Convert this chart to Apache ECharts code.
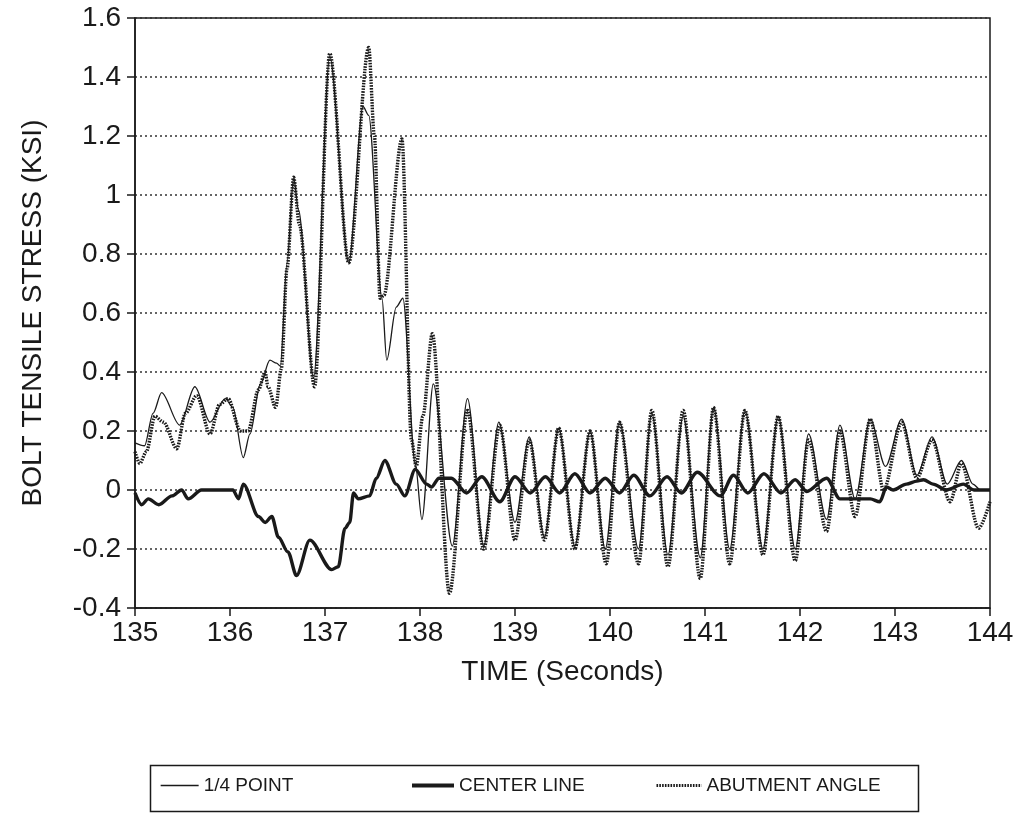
<!DOCTYPE html>
<html>
<head>
    <meta charset="utf-8">
    <title>Bolt tensile stress</title>
    <script src="https://cdn.jsdelivr.net/npm/echarts@6/dist/echarts.min.js"></script>
    <style type="text/css">
        body {
            margin: 0;
            background: #fff;
        }

        #main {
            width: 1026px;
            height: 813px;
        }
    </style>
</head>
<body>
<div id="main"></div>
<script>
    // 1/4 POINT (thin solid)
    var quarterTime = [135.00, 135.10, 135.19, 135.28, 135.47, 135.63, 135.79, 135.95, 136.03, 136.14,
        136.21, 136.32, 136.42, 136.49, 136.53, 136.60, 136.67, 136.72, 136.88, 137.05,
        137.25, 137.40, 137.46, 137.60, 137.65, 137.75, 137.82, 137.95, 138.02, 138.14,
        138.34, 138.50, 138.67, 138.83, 139.00, 139.15, 139.31, 139.46, 139.63, 139.79,
        139.95, 140.10, 140.30, 140.44, 140.61, 140.77, 140.95, 141.09, 141.26, 141.42,
        141.61, 141.77, 141.95, 142.09, 142.28, 142.42, 142.58, 142.74, 142.90, 143.07,
        143.23, 143.39, 143.55, 143.70, 143.82, 143.90, 144.00];
    var quarterStress = [0.16, 0.15, 0.26, 0.33, 0.22, 0.35, 0.23, 0.31, 0.28, 0.11,
        0.19, 0.36, 0.44, 0.43, 0.42, 0.77, 1.06, 0.95, 0.38, 1.47,
        0.77, 1.30, 1.27, 0.65, 0.44, 0.62, 0.65, 0.09, -0.10, 0.36,
        -0.19, 0.31, -0.19, 0.23, -0.11, 0.18, -0.16, 0.21, -0.19, 0.20,
        -0.20, 0.23, -0.20, 0.26, -0.22, 0.25, -0.23, 0.28, -0.20, 0.27,
        -0.20, 0.25, -0.20, 0.19, -0.10, 0.22, -0.03, 0.24, 0.08, 0.24,
        0.05, 0.18, 0.02, 0.10, 0.02, 0.00, 0.00];

    // CENTER LINE (thick solid)
    var centerTime = [135.00, 135.07, 135.14, 135.25, 135.39, 135.49, 135.56, 135.70, 136.03, 136.09,
        136.14, 136.30, 136.37, 136.44, 136.51, 136.61, 136.70, 136.84, 137.07, 137.14,
        137.21, 137.26, 137.30, 137.35, 137.47, 137.54, 137.63, 137.75, 137.84, 137.95,
        138.07, 138.12, 138.20, 138.33, 138.49, 138.65, 138.84, 139.00, 139.16, 139.32,
        139.47, 139.63, 139.79, 139.95, 140.10, 140.25, 140.42, 140.60, 140.75, 140.92,
        141.16, 141.30, 141.45, 141.62, 141.80, 141.95, 142.07, 142.28, 142.42, 142.60,
        142.74, 142.84, 142.91, 142.98, 143.12, 143.23, 143.30, 143.40, 143.54, 143.72,
        143.83, 144.00];
    var centerStress = [-0.01, -0.05, -0.03, -0.05, -0.02, 0.00, -0.03, 0.00, 0.00, -0.03,
        0.02, -0.09, -0.11, -0.09, -0.16, -0.21, -0.29, -0.17, -0.27, -0.26,
        -0.13, -0.11, -0.01, -0.03, -0.02, 0.04, 0.10, 0.02, -0.02, 0.07,
        0.02, 0.01, 0.04, 0.04, -0.01, 0.045, -0.04, 0.045, -0.01, 0.045,
        -0.01, 0.055, -0.01, 0.04, -0.01, 0.05, -0.02, 0.045, -0.01, 0.06,
        -0.02, 0.05, -0.01, 0.055, -0.01, 0.035, -0.005, 0.04, -0.03, -0.03,
        -0.03, -0.04, 0.01, 0.00, 0.02, 0.03, 0.035, 0.02, 0.00, 0.02,
        0.00, 0.00];

    // ABUTMENT ANGLE (dotted)
    var abutTime = [135.00, 135.05, 135.12, 135.21, 135.30, 135.44, 135.53, 135.65, 135.79, 135.89,
        135.98, 136.11, 136.19, 136.30, 136.37, 136.40, 136.48, 136.54, 136.60, 136.67,
        136.73, 136.89, 137.05, 137.25, 137.46, 137.52, 137.58, 137.62, 137.81, 137.91,
        137.96, 138.03, 138.13, 138.31, 138.50, 138.67, 138.84, 139.00, 139.15, 139.31,
        139.46, 139.63, 139.79, 139.96, 140.10, 140.30, 140.44, 140.61, 140.77, 140.95,
        141.09, 141.26, 141.42, 141.61, 141.77, 141.95, 142.09, 142.28, 142.42, 142.58,
        142.74, 142.88, 143.07, 143.23, 143.39, 143.58, 143.70, 143.88, 144.00];
    var abutStress = [0.13, 0.09, 0.13, 0.25, 0.23, 0.14, 0.26, 0.32, 0.19, 0.29,
        0.31, 0.20, 0.20, 0.34, 0.40, 0.35, 0.28, 0.41, 0.75, 1.06,
        0.90, 0.35, 1.48, 0.77, 1.50, 1.20, 0.65, 0.66, 1.19, 0.17,
        0.08, 0.25, 0.53, -0.35, 0.27, -0.20, 0.22, -0.17, 0.17, -0.17,
        0.21, -0.20, 0.20, -0.25, 0.23, -0.25, 0.27, -0.26, 0.27, -0.30,
        0.28, -0.25, 0.27, -0.22, 0.25, -0.24, 0.17, -0.14, 0.20, -0.09,
        0.24, 0.00, 0.23, 0.04, 0.17, -0.04, 0.09, -0.13, -0.04];

    function pairs(xs, ys) {
        var out = [];
        for (var i = 0; i < xs.length; i++) {
            out.push([xs[i], ys[i]]);
        }
        return out;
    }

    var ink = '#1a1a1a';
    var font = 'Liberation Sans, Arial, sans-serif';

    // one legend per entry, the spacing in the original box is uneven
    function legendAt(name, left, iconWidth, lineStyle) {
        return {
            left: left,
            top: 776,
            padding: 0,
            itemWidth: iconWidth,
            itemHeight: 10,
            itemStyle: {opacity: 0},
            lineStyle: lineStyle,
            textStyle: {color: ink, fontFamily: font, fontSize: 19},
            data: [name]
        };
    }

    var myChart = echarts.init(document.getElementById('main'));
    var option = {
        animation: false,
        backgroundColor: '#fff',
        grid: {
            left: 135,
            right: 36,
            top: 18,
            bottom: 205,
            show: true,
            borderColor: ink,
            borderWidth: 1.5,
            backgroundColor: '#fff'
        },
        graphic: [{
            type: 'rect',
            left: 148,
            top: 763,
            shape: {width: 768, height: 46},
            style: {fill: 'none', stroke: ink, lineWidth: 1.5}
        }],
        legend: [
            legendAt('1/4 POINT', 160, 38, {width: 1.3}),
            legendAt('CENTER LINE', 410, 42, {width: 4}),
            legendAt('ABUTMENT ANGLE', 655, 45, {width: 3})
        ],
        xAxis: {
            type: 'value',
            min: 135,
            max: 144,
            interval: 1,
            name: 'TIME (Seconds)',
            nameLocation: 'middle',
            nameGap: 50,
            nameTextStyle: {
                color: ink,
                fontFamily: font,
                fontSize: 28
            },
            axisLine: {onZero: false, lineStyle: {color: ink, width: 1.5}},
            axisTick: {show: true, inside: false, length: 8, lineStyle: {color: ink, width: 1.5}},
            axisLabel: {
                color: ink,
                fontFamily: font,
                fontSize: 28,
                margin: 11
            },
            splitLine: {show: false}
        },
        yAxis: {
            type: 'value',
            min: -0.4,
            max: 1.6,
            interval: 0.2,
            name: 'BOLT TENSILE STRESS (KSI)',
            nameLocation: 'middle',
            nameRotate: 90,
            nameGap: 88,
            nameTextStyle: {
                color: ink,
                fontFamily: font,
                fontSize: 28
            },
            axisLine: {onZero: false, lineStyle: {color: ink, width: 1.5}},
            axisTick: {show: true, inside: false, length: 8, lineStyle: {color: ink, width: 1.5}},
            axisLabel: {
                color: ink,
                fontFamily: font,
                fontSize: 28,
                margin: 14
            },
            splitLine: {
                show: true,
                lineStyle: {color: '#333', width: 1.5, type: [2, 3]}
            }
        },
        series: [{
            name: '1/4 POINT',
            type: 'line',
            symbol: 'none',
            smooth: 0.3,
            smoothMonotone: 'x',
            data: pairs(quarterTime, quarterStress),
            lineStyle: {color: ink, width: 1.3},
            itemStyle: {color: ink},
            z: 3
        }, {
            name: 'CENTER LINE',
            type: 'line',
            symbol: 'none',
            smooth: 0.3,
            smoothMonotone: 'x',
            data: pairs(centerTime, centerStress),
            lineStyle: {color: ink, width: 3.4},
            itemStyle: {color: ink},
            z: 2
        }, {
            name: 'ABUTMENT ANGLE',
            type: 'line',
            symbol: 'none',
            smooth: 0.3,
            smoothMonotone: 'x',
            data: pairs(abutTime, abutStress),
            lineStyle: {color: ink, width: 3.4, type: [1.6, 1.2]},
            itemStyle: {color: ink},
            z: 4
        }]
    };
    myChart.setOption(option);
</script>
</body>
</html>
